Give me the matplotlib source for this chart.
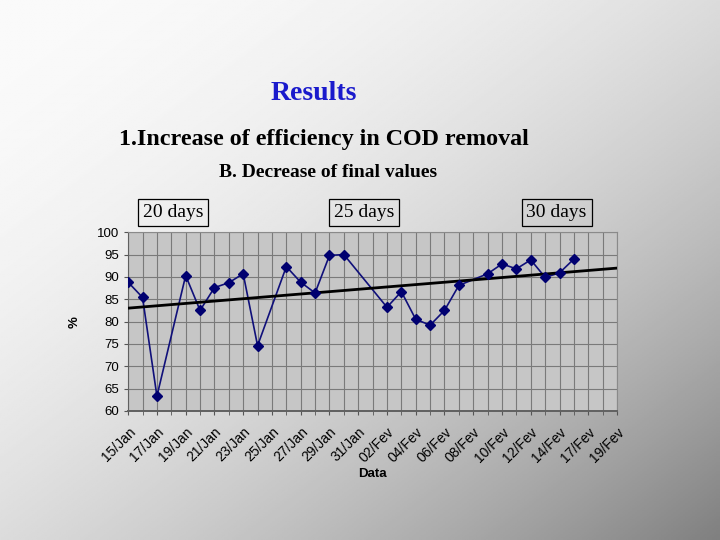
import matplotlib.pyplot as plt
import numpy as np

# category axis: one slot per day (labels shown every second slot)
day_labels = ['15/Jan', '16/Jan', '17/Jan', '18/Jan', '19/Jan', '20/Jan', '21/Jan', '22/Jan',
              '23/Jan', '24/Jan', '25/Jan', '26/Jan', '27/Jan', '28/Jan', '29/Jan', '30/Jan',
              '31/Jan', '01/Fev', '02/Fev', '03/Fev', '04/Fev', '05/Fev', '06/Fev', '07/Fev',
              '08/Fev', '09/Fev', '10/Fev', '11/Fev', '12/Fev', '13/Fev', '14/Fev', '16/Fev',
              '17/Fev', '18/Fev', '19/Fev']

# days with a measurement (index into day_labels) and COD removal efficiency (%)
day_idx = [0, 1, 2, 4, 5, 6, 7, 8, 9, 11, 12, 13, 14, 15, 18, 19, 20, 21, 22, 23,
           25, 26, 27, 28, 29, 30, 31]
efficiency = [88.8, 85.4, 63.3, 90.3, 82.5, 87.6, 88.7, 90.7, 74.6, 92.3, 88.8, 86.4,
              94.8, 95.0, 83.2, 86.7, 80.5, 79.2, 82.5, 88.1, 90.7, 92.9, 91.8, 93.8,
              89.9, 90.9, 94.0]

period_labels = ['20 days', '25 days', '30 days']

fig = plt.figure(figsize=(7.2, 5.4), dpi=100)

# slide background: white top-left fading to grey bottom-right
bg = fig.add_axes([0, 0, 1, 1], zorder=-10)
gx, gy = np.meshgrid(np.linspace(0, 1, 300), np.linspace(0, 1, 300))
t = (gx + gy) / 2
bg.imshow(0.98 - 0.48 * t ** 2, cmap='gray', vmin=0, vmax=1, extent=[0, 1, 0, 1],
          aspect='auto', origin='upper')
bg.axis('off')

serif = ['Liberation Serif', 'DejaVu Serif']
sans = ['Liberation Sans', 'DejaVu Sans']

fig.text(0.436, 0.826, 'Results', family=serif, fontsize=20, fontweight='bold',
         color='#1a1acc', ha='center', va='center')
fig.text(0.165, 0.742, '1.Increase of efficiency in COD removal', family=serif,
         fontsize=17.3, fontweight='bold', ha='left', va='center')
fig.text(0.455, 0.681, 'B. Decrease of final values', family=serif, fontsize=14,
         fontweight='bold', ha='center', va='center')
for xpos, lab in zip([0.240, 0.506, 0.773], period_labels):
    fig.text(xpos, 0.606, lab, family=serif, fontsize=14, ha='center', va='center',
             bbox=dict(boxstyle='square,pad=0.25', fc='none', ec='black', lw=0.9))

ax = fig.add_axes([0.178, 0.239, 0.679, 0.331])
ax.set_facecolor('#c6c6c6')

x = np.arange(len(day_labels))
ax.plot(day_idx, efficiency, '-', color='#10107a', lw=1.2, zorder=3)
ax.plot(day_idx, efficiency, 'D', color='#000070', ms=5, zorder=4)

# linear trend over the measured days
k, b = np.polyfit(day_idx, efficiency, 1)
ax.plot(x[[0, -1]], k * x[[0, -1]] + b, color='black', lw=2, zorder=3)

ax.set_xlim(0, len(day_labels) - 1)
ax.set_ylim(60, 100)
ax.set_yticks(np.arange(60, 101, 5))
ax.set_xticks(x, minor=True)
ax.set_xticks(x[::2])
ax.set_xticklabels(day_labels[::2], rotation=45, ha='right', rotation_mode='anchor',
                   family=sans, fontsize=10)
for lab in ax.get_yticklabels():
    lab.set_family(sans)
    lab.set_fontsize(9.5)
ax.grid(True, which='both', axis='x', color='#7a7a7a', lw=0.8)
ax.grid(True, which='major', axis='y', color='#7a7a7a', lw=0.8)
ax.tick_params(which='both', length=3, color='#555555')
ax.tick_params(axis='x', which='major', pad=7)
for s in ax.spines.values():
    s.set_color('#8a8a8a')
ax.spines['bottom'].set_color('#606060')
ax.spines['bottom'].set_linewidth(1.4)
ax.spines['left'].set_color('#606060')

ax.set_ylabel('%', family=sans, fontsize=9.5, fontweight='bold', labelpad=12)
ax.set_xlabel('Data', family=sans, fontsize=9.5, fontweight='bold', labelpad=2)

fig.savefig('out.png', dpi=100)
